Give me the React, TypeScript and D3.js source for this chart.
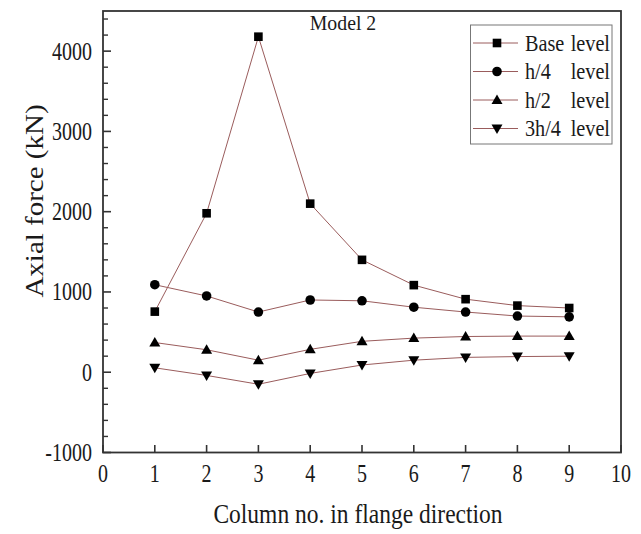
import React from "react";
import * as d3 from "d3";

const columns = [1, 2, 3, 4, 5, 6, 7, 8, 9];
const baseLevel = [755, 1980, 4180, 2100, 1400, 1085, 910, 830, 800];
const h4Level = [1090, 950, 750, 900, 890, 810, 750, 700, 690];
const h2Level = [370, 280, 150, 285, 385, 425, 445, 450, 450];
const h34Level = [55, -40, -150, -15, 90, 150, 185, 195, 200];
const seriesNames = ["Base", "h/4", "h/2", "3h/4"];
const markerTypes = ["square", "circle", "triangle", "triangleDown"];
const xTicks = [0, 1, 2, 3, 4, 5, 6, 7, 8, 9, 10];
const yTicks = [-1000, 0, 1000, 2000, 3000, 4000];

const W = 641, H = 534;
const M = { left: 103, top: 11, right: 621, bottom: 452.5 };
const FONT = "'Liberation Serif', 'DejaVu Serif', serif";
const LINE = "#9a5c5c";

function Marker({ type, x, y }: { type: string; x: number; y: number }) {
  if (type === "square") return <rect x={x - 4.3} y={y - 4.3} width={8.6} height={8.6} fill="#000" />;
  if (type === "circle") return <circle cx={x} cy={y} r={4.8} fill="#000" />;
  if (type === "triangle")
    return <path d={`M${x},${y - 5.5}L${x + 5.5},${y + 4}L${x - 5.5},${y + 4}Z`} fill="#000" />;
  return <path d={`M${x},${y + 5.5}L${x + 5.5},${y - 4}L${x - 5.5},${y - 4}Z`} fill="#000" />;
}

function SText({ x, y, size, sx = 0.85, sy = 1, anchor = "start", children, rotate = 0 }: any) {
  return (
    <g transform={`translate(${x},${y}) rotate(${rotate}) scale(${sx},${sy})`}>
      <text fontFamily={FONT} fontSize={size} textAnchor={anchor} fill="#1a1a1a">
        {children}
      </text>
    </g>
  );
}

export default function App() {
  const x = d3.scaleLinear().domain([0, 10]).range([M.left, M.right]);
  const y = d3.scaleLinear().domain([-1000, 4500]).range([M.bottom, M.top]);
  const all = [baseLevel, h4Level, h2Level, h34Level];
  const line = d3
    .line<number>()
    .x((_, i) => x(columns[i]))
    .y((d) => y(d));
  const minorY = d3.range(-1000, 4500.1, 200).filter((v) => v % 1000 !== 0);

  const legX = 470.5, legY = 25, legW = 141.5, legH = 119, rowH = 28.5;

  return (
    <svg width={W} height={H} style={{ position: "absolute", left: 0, top: 0, background: "#fff" }}>
      <rect width={W} height={H} fill="#fff" />
      {all.map((s, si) => (
        <g key={si}>
          <path d={line(s) || ""} fill="none" stroke={LINE} strokeWidth={1} />
          {s.map((v, i) => (
            <Marker key={i} type={markerTypes[si]} x={x(columns[i])} y={y(v)} />
          ))}
        </g>
      ))}
      <rect x={M.left} y={M.top} width={M.right - M.left} height={M.bottom - M.top} fill="none" stroke="#333" strokeWidth={1.8} />
      {yTicks.map((t) => (
        <g key={t}>
          <line x1={M.left} x2={M.left + 8} y1={y(t)} y2={y(t)} stroke="#333" strokeWidth={1.6} />
          <SText x={92} y={y(t) + 8.5} size={25} anchor="end" sx={0.8}>
            {t}
          </SText>
        </g>
      ))}
      {minorY.map((t) => (
        <line key={t} x1={M.left} x2={M.left + 5} y1={y(t)} y2={y(t)} stroke="#333" strokeWidth={1.4} />
      ))}
      {xTicks.map((t) => (
        <g key={t}>
          <line x1={x(t)} x2={x(t)} y1={M.bottom} y2={M.bottom - 7.5} stroke="#333" strokeWidth={1.6} />
          <SText x={x(t)} y={482} size={25} anchor="middle" sx={0.8}>
            {t}
          </SText>
        </g>
      ))}
      <SText x={358} y={523} size={28} anchor="middle" sx={0.84}>
        Column no. in flange direction
      </SText>
      <SText x={43} y={201} size={29} anchor="middle" sx={1} sy={0.85} rotate={-90}>
        Axial force (kN)
      </SText>
      <SText x={343} y={30} size={22} anchor="middle" sx={0.9}>
        Model 2
      </SText>
      <rect x={legX} y={legY} width={legW} height={legH} fill="#fff" stroke="#777" strokeWidth={1} />
      {seriesNames.map((n, i) => {
        const cy = legY + 18 + i * rowH;
        return (
          <g key={n}>
            <line x1={473} x2={518} y1={cy} y2={cy} stroke={LINE} strokeWidth={1} />
            <Marker type={markerTypes[i]} x={497} y={cy} />
            <SText x={525} y={cy + 7.5} size={23} sx={0.88}>
              {n}
            </SText>
            <SText x={610} y={cy + 7.5} size={23} sx={0.88} anchor="end">
              level
            </SText>
          </g>
        );
      })}
    </svg>
  );
}
